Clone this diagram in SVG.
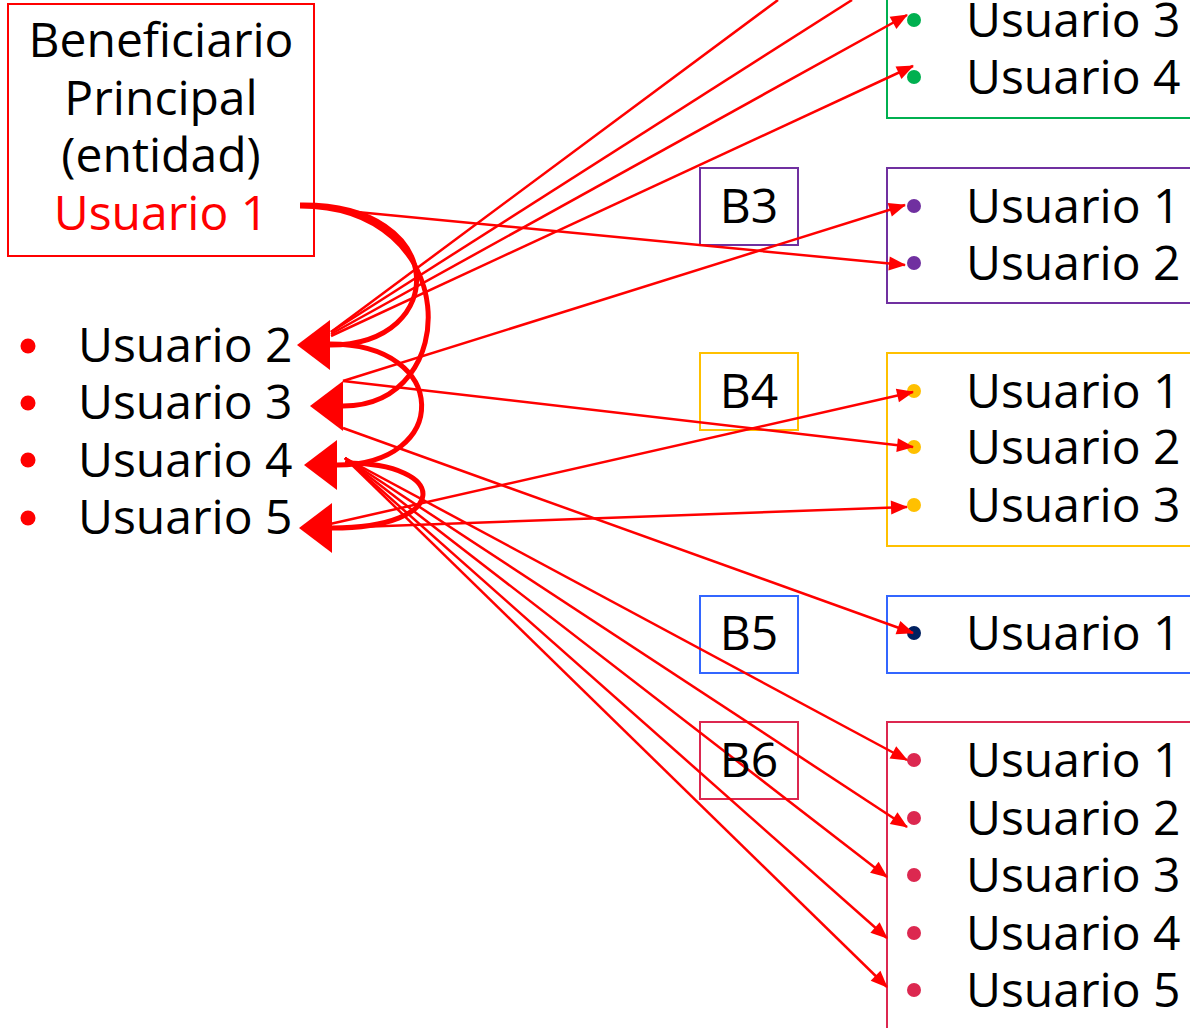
<svg xmlns="http://www.w3.org/2000/svg" width="1190" height="1028" viewBox="0 0 1190 1028">
<style>
text{font-family:"Open Sans","Noto Sans","DejaVu Sans",sans-serif;font-size:48px;fill:#000}
.red{fill:#FF0000}
.c{text-anchor:middle}
.box{fill:#fff;stroke-width:2}
.thin{fill:none;stroke:#FF0000;stroke-width:2.5;marker-end:url(#sa)}
.thick{fill:none;stroke:#FF0000;stroke-width:5;marker-end:url(#la)}
</style>
<defs>
<marker id="sa" markerUnits="userSpaceOnUse" markerWidth="18" markerHeight="16" refX="16" refY="7" orient="auto" viewBox="0 0 18 16" overflow="visible">
<path d="M0,0 L17,7 L0,14 z" fill="#FF0000"/>
</marker>
<marker id="la" markerUnits="userSpaceOnUse" markerWidth="34" markerHeight="52" refX="0" refY="25" orient="auto" viewBox="0 0 34 52" overflow="visible">
<path d="M0,0 L33,25 L0,50 z" fill="#FF0000"/>
</marker>
</defs>
<rect width="1190" height="1028" fill="#fff"/>

<g id="principal">
<rect class="box" x="8" y="4" width="306" height="252" stroke="#FF0000"/>
<text class="c" x="161" y="57">Beneficiario</text>
<text class="c" x="161" y="115">Principal</text>
<text class="c" x="161" y="172">(entidad)</text>
<text class="c red" x="161" y="230">Usuario 1</text>
</g>

<g id="lista">
<circle cx="28" cy="346" r="7.5" fill="#FF0000"/><text x="78" y="362">Usuario 2</text>
<circle cx="28" cy="403" r="7.5" fill="#FF0000"/><text x="78" y="419">Usuario 3</text>
<circle cx="28" cy="460" r="7.5" fill="#FF0000"/><text x="78" y="477">Usuario 4</text>
<circle cx="28" cy="518" r="7.5" fill="#FF0000"/><text x="78" y="534">Usuario 5</text>
</g>

<g id="b2">
<rect class="box" x="887" y="-20" width="320" height="138" stroke="#00B050"/>
<circle cx="914" cy="20" r="7" fill="#00B050"/><text x="966" y="37">Usuario 3</text>
<circle cx="914" cy="77" r="7" fill="#00B050"/><text x="966" y="94">Usuario 4</text>
</g>

<g id="b3">
<rect class="box" x="700" y="168" width="98" height="77" stroke="#7030A0"/>
<text class="c" x="749" y="223">B3</text>
<rect class="box" x="887" y="168" width="320" height="135" stroke="#7030A0"/>
<circle cx="914" cy="206" r="7" fill="#7030A0"/><text x="966" y="223">Usuario 1</text>
<circle cx="914" cy="263" r="7" fill="#7030A0"/><text x="966" y="280">Usuario 2</text>
</g>

<g id="b4">
<rect class="box" x="700" y="353" width="98" height="77" stroke="#FFC000"/>
<text class="c" x="749" y="408">B4</text>
<rect class="box" x="887" y="353" width="320" height="193" stroke="#FFC000"/>
<circle cx="914" cy="391" r="7" fill="#FFC000"/><text x="966" y="408">Usuario 1</text>
<circle cx="914" cy="447" r="7" fill="#FFC000"/><text x="966" y="464">Usuario 2</text>
<circle cx="914" cy="505" r="7" fill="#FFC000"/><text x="966" y="522">Usuario 3</text>
</g>

<g id="b5">
<rect class="box" x="700" y="596" width="98" height="77" stroke="#3366FF"/>
<text class="c" x="749" y="650">B5</text>
<rect class="box" x="887" y="596" width="320" height="77" stroke="#3366FF"/>
<circle cx="914" cy="633" r="7" fill="#002060"/><text x="966" y="650">Usuario 1</text>
</g>

<g id="b6">
<rect class="box" x="700" y="722" width="98" height="77" stroke="#DC2850" fill="none"/>
<rect class="box" x="887" y="722" width="320" height="330" stroke="#DC2850"/>
<circle cx="914" cy="760" r="7" fill="#DC2850"/><text x="966" y="777">Usuario 1</text>
<circle cx="914" cy="818" r="7" fill="#DC2850"/><text x="966" y="835">Usuario 2</text>
<circle cx="914" cy="875" r="7" fill="#DC2850"/><text x="966" y="892">Usuario 3</text>
<circle cx="914" cy="933" r="7" fill="#DC2850"/><text x="966" y="950">Usuario 4</text>
<circle cx="914" cy="990" r="7" fill="#DC2850"/><text x="966" y="1007">Usuario 5</text>
</g>

<g id="connectors">
<path class="thin" d="M357,212 L905,265"/>
<path class="thin" d="M331,332 L778,0" style="marker-end:none"/>
<path class="thin" d="M331,332 L852,0" style="marker-end:none"/>
<path class="thin" d="M331,334 L907,15"/>
<path class="thin" d="M331,336 L913,66"/>
<path class="thin" d="M343,381 L905,205"/>
<path class="thin" d="M343,381 L913,447"/>
<path class="thin" d="M343,428 L913,633"/>
<path class="thin" d="M330,524 L913,392"/>
<path class="thin" d="M330,528 L907,507"/>
<path class="thin" d="M345,458 L907,760"/>
<path class="thin" d="M345,458 L907,827"/>
<path class="thin" d="M345,458 L887,877"/>
<path class="thin" d="M345,458 L887,938"/>
<path class="thin" d="M345,458 L887,987"/>
<path class="thick" d="M300,205 C450,203 450,345 330,345"/>
<path class="thick" d="M300,206 C463,206 463,406 343,406"/>
<path class="thick" d="M330,344 C451,344 451,465 337,465"/>
<path class="thick" d="M345,463 C451,463 451,528 332,528"/>
<text x="749" y="777" class="c">B6</text>
</g>
</svg>
